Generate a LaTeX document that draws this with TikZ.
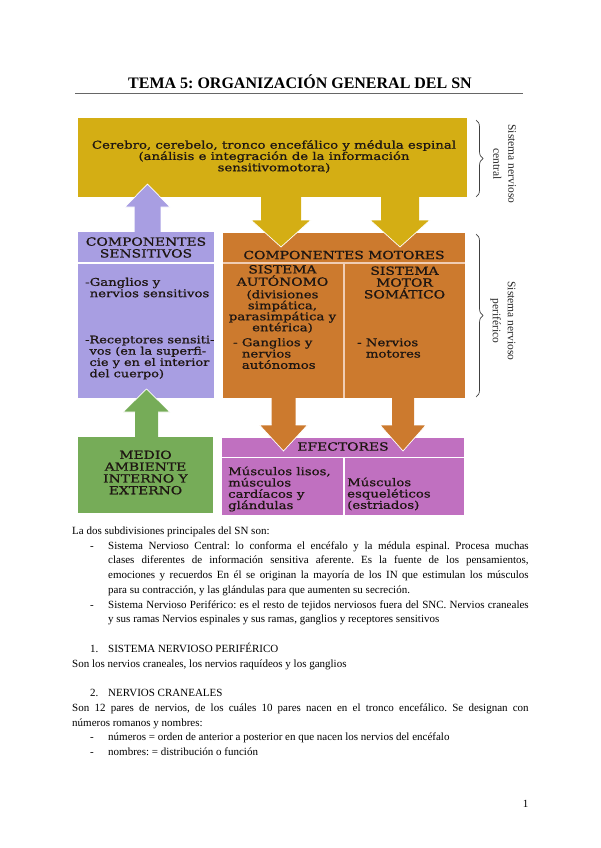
\documentclass[tikz,border=0pt]{standalone}
\usepackage{fontspec}
\setmainfont{Liberation Serif}
\newfontfamily\dfont[FakeStretch=1.24,FakeBold=1]{DejaVu Serif}
\usetikzlibrary{decorations.pathreplacing}
\frenchspacing
\definecolor{cyel}{RGB}{212,174,20}
\definecolor{clav}{RGB}{168,158,226}
\definecolor{corg}{RGB}{204,122,46}
\definecolor{cmag}{RGB}{192,112,192}
\definecolor{cgrn}{RGB}{118,172,88}
\definecolor{ctxt}{RGB}{30,22,18}
\definecolor{csep}{RGB}{240,205,180}
\newcommand\barrow[7]{%
 \fill[#1] ({#2-#6},#3) -- ({#2-#6},#4) -- ({#2-#7},#4) -- (#2,#5) -- ({#2+#7},#4) -- ({#2+#6},#4) -- ({#2+#6},#3) -- cycle;
 \draw[white,line width=0.7] ({#2-#6},#4) -- ({#2-#7},#4) -- (#2,#5) -- ({#2+#7},#4) -- ({#2+#6},#4);}
\begin{document}
\begin{tikzpicture}[x=1pt,y=-1pt,
  box/.style={draw=none,inner sep=0,outer sep=0,anchor=north west},
  dtxt/.style={inner sep=0,text=ctxt,font=\dfont\fontsize{10.7}{11.3}\selectfont},
  dcap/.style={inner sep=0,text=ctxt,font=\dfont\fontsize{11.2}{11.8}\selectfont},
  btxt/.style={inner sep=0,anchor=base west,font=\fontsize{11}{14.7}\selectfont},
  lbl/.style={inner sep=0,rotate=-90,align=center,font=\fontsize{11.5}{15}\selectfont,text=black!85},
  brc/.style={decorate,decoration={brace,amplitude=7pt},line width=0.7,black!75},
]
\useasboundingbox (0,0) rectangle (600,848);

% title
\node[inner sep=0,anchor=base,font=\bfseries\fontsize{16}{19}\selectfont] (title) at (300,88.5) {TEMA 5: ORGANIZACIÓN GENERAL DEL SN};
\coordinate (ruleL) at (75,93.5);
\coordinate (ruleR) at (523,93.5);
\draw[black!60,line width=0.8] (ruleL) -- (ruleR);

% boxes
\node[box,fill=cyel,minimum width=389,minimum height=79] (cns) at (78,118) {};
\node[box,fill=clav,minimum width=136,minimum height=29.5] (senh) at (78,232) {};
\node[box,fill=clav,minimum width=136,minimum height=134.5] (senb) at (78,263.5) {};
\node[box,fill=csep,minimum width=242,minimum height=165] (motbg) at (223,233) {};
\node[box,fill=corg,minimum width=242,minimum height=28.7] (moth) at (223,233) {};
\node[box,fill=corg,minimum width=119.5,minimum height=134.5] (motl) at (223,263.5) {};
\node[box,fill=corg,minimum width=120.5,minimum height=134.5] (motr) at (344.5,263.5) {};
\node[box,fill=cmag,minimum width=242,minimum height=18.5] (efh) at (222,438) {};
\node[box,fill=cmag,minimum width=120.5,minimum height=57] (efl) at (222,458) {};
\node[box,fill=cmag,minimum width=119.5,minimum height=57] (efr) at (344.5,458) {};
\node[box,fill=cgrn,minimum width=135,minimum height=76] (amb) at (78,437) {};

% block arrows
\barrow{cyel}{281}{196}{220}{247}{20}{30}
\barrow{cyel}{400}{196}{220}{247}{19}{30}
\barrow{clav}{147.5}{233}{207}{184}{13}{22.5}
\barrow{cgrn}{146.5}{438}{412}{389}{11.5}{23.5}
\barrow{corg}{283.5}{397}{425}{451}{12}{24}
\barrow{corg}{403}{397}{425}{451}{11}{23}

% diagram texts
\node[dtxt,align=center] (tcns) at (274,156.5) {Cerebro, cerebelo, tronco encefálico y médula espinal\\(análisis e integración de la información\\sensitivomotora)};
\node[dcap,align=center] (tsenh) at (146,247.5) {COMPONENTES\\SENSITIVOS};
\node[dtxt,align=left,anchor=west] (tsen1) at (85,287.5) {-Ganglios y\\\phantom{-}nervios sensitivos};
\node[dtxt,align=left,anchor=west,font=\dfont\fontsize{10.4}{11.3}\selectfont] (tsen2) at (85,357.5) {-Receptores sensiti-\\\phantom{-}vos (en la superfi-\\\phantom{-}cie y en el interior\\\phantom{-}del cuerpo)};
\node[dcap] (tmoth) at (344,255) {COMPONENTES MOTORES};
\node[dcap,align=center,font=\dfont\fontsize{11.2}{12.3}\selectfont] (taut1) at (282.5,275.5) {SISTEMA\\AUTÓNOMO};
\node[dtxt,align=center,font=\dfont\fontsize{10.7}{11}\selectfont] (taut2) at (282.5,311.5) {(divisiones\\simpática,\\parasimpática y\\entérica)};
\node[dtxt,align=left,anchor=west] (taut3) at (233,353.5) {- Ganglios y\\\phantom{- }nervios\\\phantom{- }autónomos};
\node[dcap,align=center] (tsom) at (404.5,282.5) {SISTEMA\\MOTOR\\SOMÁTICO};
\node[dtxt,align=left,anchor=west] (tsom2) at (357,348) {- Nervios\\\phantom{- }motores};
\node[dcap] (tefh) at (343,446.5) {EFECTORES};
\node[dtxt,align=left,anchor=west] (tefl) at (228,489) {Músculos lisos,\\músculos\\cardíacos y\\glándulas};
\node[dtxt,align=left,anchor=west] (tefr) at (347,494) {Músculos\\esqueléticos\\(estriados)};
\node[dcap,align=center] (tamb) at (145.5,472.5) {MEDIO\\AMBIENTE\\INTERNO Y\\EXTERNO};

% braces and side labels
\coordinate (b1t) at (476,120); \coordinate (b1b) at (476,197);
\coordinate (b2t) at (476,234); \coordinate (b2b) at (476,397);
\draw[brc] (b1t) -- (b1b);
\draw[brc] (b2t) -- (b2b);
\node[lbl] (lab1) at (504.5,164) {Sistema nervioso\\central};
\node[lbl] (lab2) at (503,321) {Sistema nervioso\\periférico};

% body text
\node[btxt] (p0) at (72,534.5) {La dos subdivisiones principales del SN son:};
\node[btxt] (d1) at (90,549.2) {-};
\node[btxt] (p1) at (108,549.2) {\makebox[420.5pt][s]{Sistema Nervioso Central: lo conforma el encéfalo y la médula espinal. Procesa muchas}};
\node[btxt] (p2) at (108,563.9) {\makebox[420.5pt][s]{clases diferentes de información sensitiva aferente. Es la fuente de los pensamientos,}};
\node[btxt] (p3) at (108,578.7) {\makebox[420.5pt][s]{emociones y recuerdos En él se originan la mayoría de los IN que estimulan los músculos}};
\node[btxt] (p4) at (108,593.4) {para su contracción, y las glándulas para que aumenten su secreción.};
\node[btxt] (d5) at (90,608.2) {-};
\node[btxt] (p5) at (108,608.2) {\makebox[420.5pt][s]{Sistema Nervioso Periférico: es el resto de tejidos nerviosos fuera del SNC. Nervios craneales}};
\node[btxt] (p6) at (108,622.9) {y sus ramas Nervios espinales y sus ramas, ganglios y receptores sensitivos};
\node[btxt] (n8) at (90,652.3) {1.};
\node[btxt] (p8) at (108,652.3) {SISTEMA NERVIOSO PERIFÉRICO};
\node[btxt] (p9) at (72,667.1) {Son los nervios craneales, los nervios raquídeos y los ganglios};
\node[btxt] (n11) at (90,696.5) {2.};
\node[btxt] (p11) at (108,696.5) {NERVIOS CRANEALES};
\node[btxt] (p12) at (72,711.3) {\makebox[456.5pt][s]{Son 12 pares de nervios, de los cuáles 10 pares nacen en el tronco encefálico. Se designan con}};
\node[btxt] (p13) at (72,726) {números romanos y nombres:};
\node[btxt] (d14) at (90,740.8) {-};
\node[btxt] (p14) at (108,740.8) {números = orden de anterior a posterior en que nacen los nervios del encéfalo};
\node[btxt] (d15) at (90,755.5) {-};
\node[btxt] (p15) at (108,755.5) {nombres: = distribución o función};
\node[inner sep=0,anchor=base east,font=\fontsize{11}{13}\selectfont] (pg) at (528.5,807) {1};
\end{tikzpicture}
\end{document}
